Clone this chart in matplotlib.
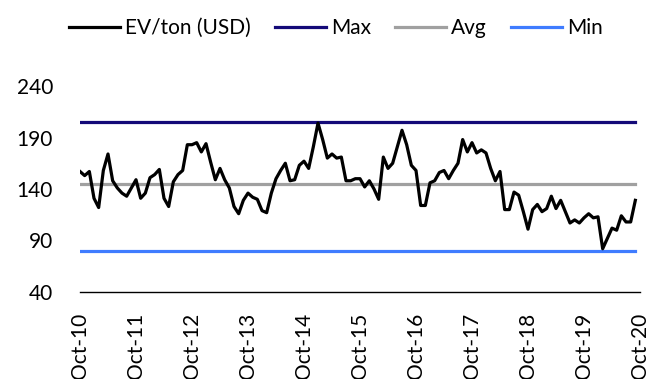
import numpy as np
import matplotlib
matplotlib.use("Agg")
from matplotlib import pyplot as plt

plt.rcParams['font.family'] = ['Lato', 'DejaVu Sans']

# monthly EV/ton (USD), Oct-10 .. Sep-20
ev_ton = [157, 153, 157, 131, 122, 158, 174, 148, 141, 136,
          133, 141, 149, 131, 136, 151, 154, 159, 131, 123,
          147, 154, 158, 183, 183, 185, 176, 184, 166, 149,
          160, 149, 141, 123, 116, 129, 136, 132, 130, 119,
          117, 136, 150, 158, 165, 148, 149, 163, 167, 160,
          181, 204, 188, 170, 174, 170, 171, 148, 148, 150,
          150, 142, 148, 140, 130, 171, 160, 165, 181, 197,
          183, 163, 158, 124, 124, 146, 148, 156, 158, 150,
          158, 165, 188, 176, 185, 175, 178, 175, 160, 148,
          157, 120, 120, 137, 134, 118, 101, 120, 125, 118,
          121, 133, 121, 129, 118, 107, 110, 107, 112, 116,
          112, 113, 82, 92, 102, 100, 114, 108, 108, 129]
max_val = 205
avg_val = 145
min_val = 80
tick_labels = ['Oct-10', 'Oct-11', 'Oct-12', 'Oct-13', 'Oct-14', 'Oct-15',
               'Oct-16', 'Oct-17', 'Oct-18', 'Oct-19', 'Oct-20']

months = np.arange(len(ev_ton))

fig = plt.figure(figsize=(6.7, 3.79), dpi=100)
ax = fig.add_axes([80 / 670, 1 - 292 / 379, 560 / 670, 206 / 379])

ax.plot(months, ev_ton, color='black', lw=2.3, label='EV/ton (USD)', zorder=4)
ax.plot(months, [max_val] * len(months), color='#140a78', lw=2.3, label='Max')
ax.plot(months, [avg_val] * len(months), color='#a0a0a0', lw=2.3, label='Avg')
ax.plot(months, [min_val] * len(months), color='#3f7cff', lw=2.3, label='Min')

ax.set_xlim(0, 120)
ax.set_ylim(40, 240)
ax.set_yticks([40, 90, 140, 190, 240])
ax.set_xticks(np.arange(0, 121, 12))
ax.set_xticklabels(tick_labels, rotation=90, va='top', ha='center')
ax.tick_params(axis='both', length=0, labelsize=15, colors='black')
ax.tick_params(axis='x', pad=15)
ax.tick_params(axis='y', pad=19.5)

for s in ['top', 'right', 'left']:
    ax.spines[s].set_visible(False)
ax.spines['bottom'].set_linewidth(1.0)

fig.legend(loc='center', bbox_to_anchor=(336 / 670, 1 - 28 / 379), ncol=4,
           frameon=False, fontsize=15, handlelength=2.45, handletextpad=0.25,
           columnspacing=1.15)

fig.savefig('out.png', dpi=100)
